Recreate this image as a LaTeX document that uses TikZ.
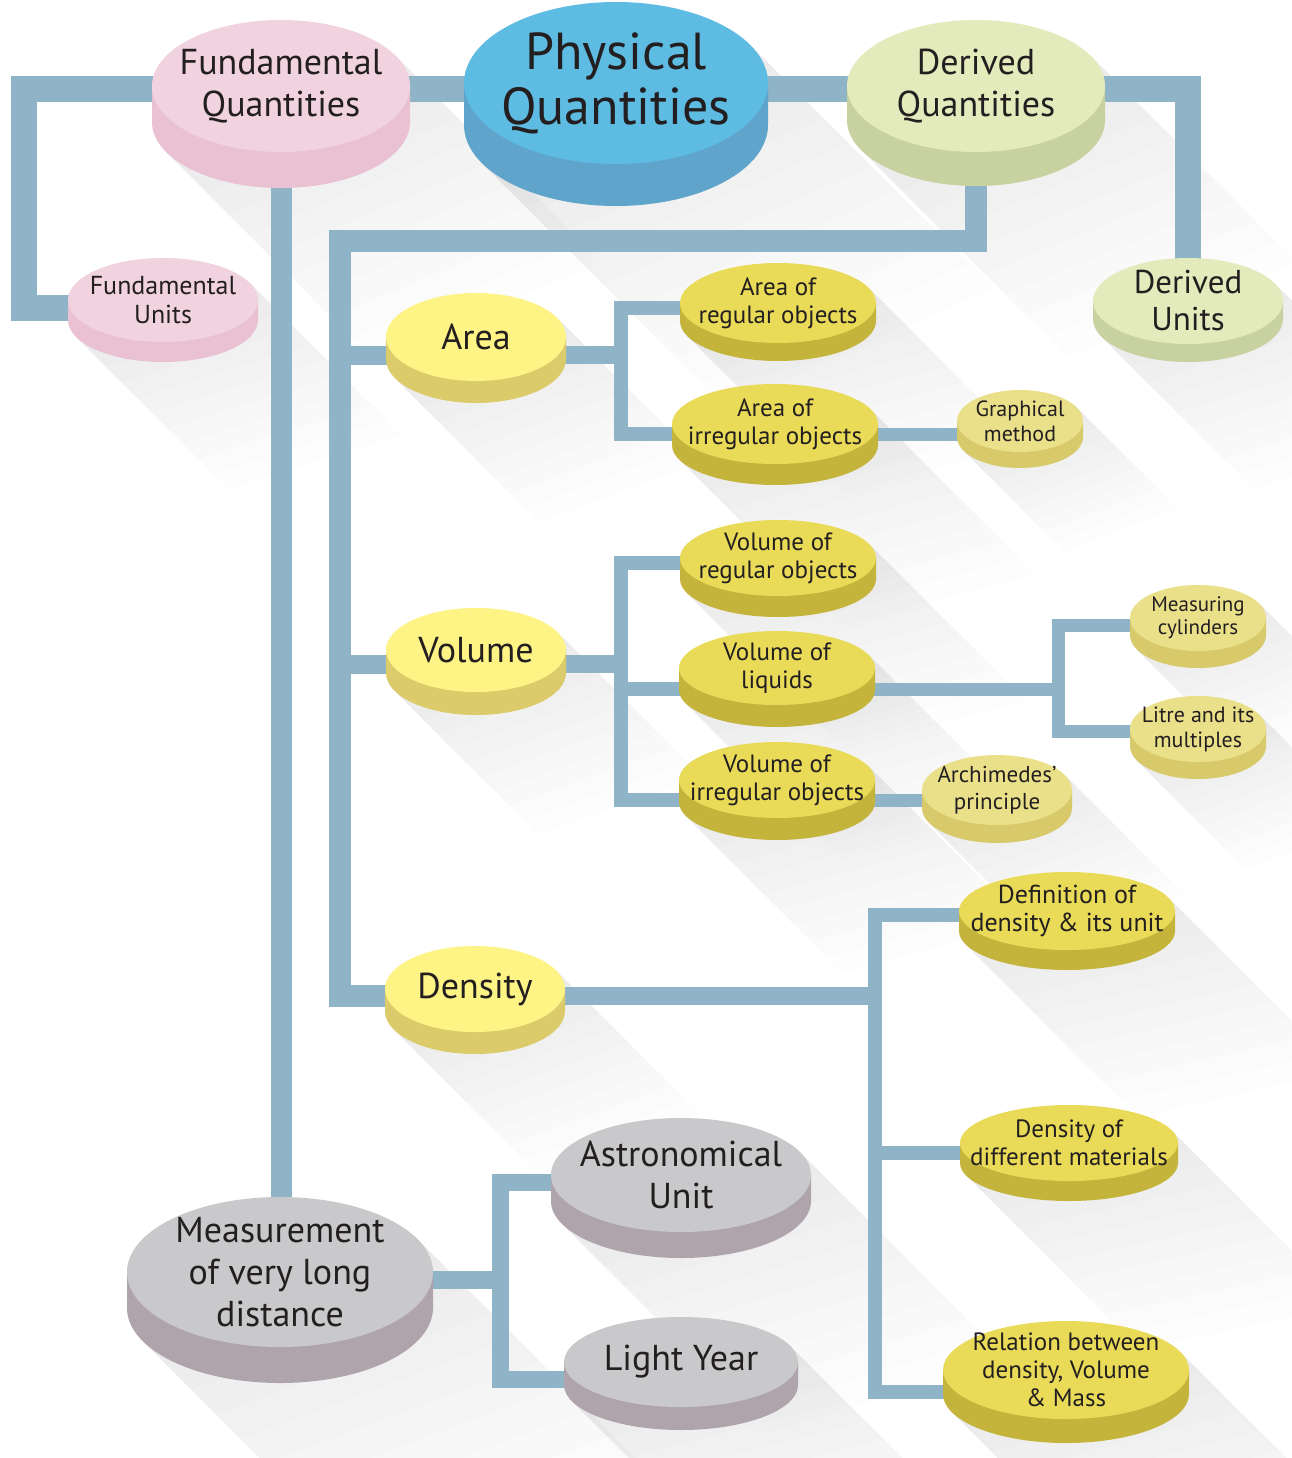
\documentclass[tikz,border=0pt]{standalone}
\usepackage{fontspec}
\setmainfont{PT Sans}
\usetikzlibrary{calc}
\pgfdeclarelayer{bg}
\pgfdeclarelayer{shadow}
\pgfdeclarelayer{bars}
\pgfsetlayers{bg,shadow,bars,main}

\definecolor{barc}{HTML}{8FB4C8}
\definecolor{txtc}{HTML}{231F20}
\definecolor{shadowc}{HTML}{5A6270}
\definecolor{pqtop}{HTML}{5EBBE1}\definecolor{pqside}{HTML}{5FA4CB}
\definecolor{fqtop}{HTML}{F0D3DF}\definecolor{fqside}{HTML}{EAC0D3}
\definecolor{dqtop}{HTML}{E3EBBC}\definecolor{dqside}{HTML}{C8D2A0}
\definecolor{latop}{HTML}{FEF385}\definecolor{laside}{HTML}{DCCB6B}
\definecolor{lbtop}{HTML}{E9DB58}\definecolor{lbside}{HTML}{C5B43C}
\definecolor{lctop}{HTML}{EAE08A}\definecolor{lcside}{HTML}{D8C96A}
\definecolor{grtop}{HTML}{C9C9CB}\definecolor{grside}{HTML}{AFA4AC}

\tikzset{
  conn/.style={draw=barc, line width=#1pt, line join=miter},
  txt/.style={text=txtc, align=center, inner sep=0pt},
  shadowstep/.style={fill=shadowc, fill opacity=0.011},
}

% #1 name, #2 cx, #3 cy, #4 rx, #5 ry, #6 depth, #7 theme, #8 {size}{skip}, #9 text
\newcommand\disc[9]{%
  \pgfmathsetmacro\dsa{atan(#5/#4)}%
  \pgfmathsetmacro\dcs{cos(\dsa)}%
  \pgfmathsetmacro\dsn{sin(\dsa)}%
  \begin{pgfonlayer}{shadow}
    \foreach \k in {1,...,10}{%
      \pgfmathsetmacro\dshl{0.16*\k*#4}%
      \fill[shadowstep]
        ({#2+#4*\dcs},{#3-#5*\dsn}) -- ++(\dshl,\dshl)
        -- ({#2-#4*\dcs+\dshl},{#3+#6+#5*\dsn+\dshl})
        -- ({#2-#4*\dcs},{#3+#6+#5*\dsn}) -- cycle;
    }
  \end{pgfonlayer}
  \fill[#7side] ({#2-#4},#3) -- ({#2-#4},{#3+#6})
    arc[start angle=180, end angle=0, x radius=#4, y radius=#5]
    -- ({#2+#4},#3) -- cycle;
  \fill[#7top] (#2,#3) ellipse[x radius=#4, y radius=#5];
  \node[txt, font=\fontsize#8\selectfont] (#1) at (#2,#3) {#9};
}

\begin{document}
\begin{tikzpicture}[x=1pt, y=-1pt]
\begin{pgfonlayer}{bg}
  \fill[white] (0,0) rectangle (1291,1458);
\end{pgfonlayer}
\useasboundingbox (0,0) rectangle (1291,1458);

\disc{PQ}{616}{83}{152}{81}{42}{pq}{{52}{55}}{Physical\\Quantities}
\disc{FQ}{281}{86}{129}{66}{36}{fq}{{36}{42}}{Fundamental\\Quantities}
\disc{DQ}{976}{86}{129}{66}{34}{dq}{{36}{42}}{Derived\\Quantities}
\disc{FU}{163}{300}{95}{42}{20}{fq}{{26}{29}}{Fundamental\\Units}
\disc{DU}{1188}{301}{95}{43}{18}{dq}{{33}{37}}{Derived\\Units}
\disc{Area}{476}{337}{90}{44}{22}{la}{{36}{40}}{Area}
\disc{Vol}{476}{650}{90}{42}{23}{la}{{36}{40}}{Volume}
\disc{Den}{475}{989}{90}{43}{22}{la}{{36}{40}}{Density}
\disc{AR}{778}{303}{98}{40}{18}{lb}{{25}{28}}{Area of\\regular objects}
\disc{AI}{775}{424}{103}{40}{21}{lb}{{25}{28}}{Area of\\irregular objects}
\disc{GM}{1020}{421}{63}{31}{16}{lc}{{22}{25}}{Graphical\\method}
\disc{VR}{778}{558}{98}{38}{21}{lb}{{25}{28}}{Volume of\\regular objects}
\disc{VL}{777}{668}{98}{37}{22}{lb}{{25}{28}}{Volume of\\liquids}
\disc{VI}{777}{780}{98}{38}{22}{lb}{{25}{28}}{Volume of\\irregular objects}
\disc{AP}{997}{790}{75}{35}{18}{lc}{{23}{27}}{Archimedes’\\principle}
\disc{MC}{1198}{618}{68}{33}{17}{lc}{{21}{23}}{Measuring\\cylinders}
\disc{LM}{1198}{729}{68}{33}{17}{lc}{{22}{25}}{Litre and its\\multiples}
\disc{DD}{1067}{911}{108}{39}{20}{lb}{{26}{28}}{Definition of\\density \& its unit}
\disc{DM}{1069}{1143}{109}{38}{20}{lb}{{25}{28}}{Density of\\different materials}
\disc{RB}{1066}{1370}{123}{49}{24}{lb}{{25}{28}}{Relation between\\density, Volume\\\& Mass}
\disc{AU}{681}{1175}{130}{57}{26}{gr}{{36}{42}}{Astronomical\\Unit}
\disc{LY}{681}{1362}{117}{45}{23}{gr}{{36}{42}}{Light Year}
\disc{MV}{280}{1272}{153}{75}{36}{gr}{{36}{42}}{Measurement\\of very long\\distance}

\begin{pgfonlayer}{bars}
  \coordinate (L1) at (24,89);
  \coordinate (tk) at (340,241);
  \coordinate (jA) at (621,355);
  \coordinate (jV) at (621,664);
  \coordinate (jL) at (1058,689);
  \coordinate (jD) at (875,996);
  \coordinate (jM) at (500,1280);
  \draw[conn=26] ($(FQ)+(0,3)$) -- ($(DQ)+(0,3)$);
  \draw[conn=26] ($(FQ)+(0,3)$) -- (L1) |- ($(FU)+(0,8)$);
  \draw[conn=26] ($(DQ)+(0,3)$) -| (DU.center);
  \draw[conn=21] (FQ.center) -- (FQ.center |- MV.center);
  \draw[conn=22] (DQ.center) |- (tk) |- ($(Den)+(0,7)$);
  \draw[conn=19] (tk) |- ($(Area)+(0,18)$);
  \draw[conn=19] (tk) |- ($(Vol)+(0,14)$);
  % Area branch
  \draw[conn=18] ($(Area)+(0,18)$) -- (jA);
  \draw[conn=14] ($(AR)+(0,5)$) -| (jA) |- ($(AI)+(0,10)$);
  \draw[conn=13] ($(AI)+(0,10)$) -- ($(GM)+(0,13)$);
  % Volume branch
  \draw[conn=18] ($(Vol)+(0,14)$) -- (jV);
  \draw[conn=14] ($(VR)+(0,5)$) -| (jV) |- ($(VI)+(0,20)$);
  \draw[conn=14] (jV) |- ($(VL)+(0,21)$);
  \draw[conn=13] ($(VL)+(0,21)$) -- (jL);
  \draw[conn=13] ($(MC)+(0,7)$) -| (jL) |- ($(LM)+(0,2)$);
  \draw[conn=13] ($(VI)+(0,20)$) -- ($(AP)+(0,10)$);
  % Density branch
  \draw[conn=18] ($(Den)+(0,7)$) -- (jD);
  \draw[conn=14] ($(DD)+(0,4)$) -| (jD) |- ($(RB)+(0,22)$);
  \draw[conn=14] (jD) |- ($(DM)+(0,10)$);
  % Long distance branch
  \draw[conn=18] ($(MV)+(0,8)$) -- (jM);
  \draw[conn=17] ($(AU)+(0,7)$) -| (jM) |- ($(LY)+(0,17)$);
\end{pgfonlayer}
\end{tikzpicture}
\end{document}
